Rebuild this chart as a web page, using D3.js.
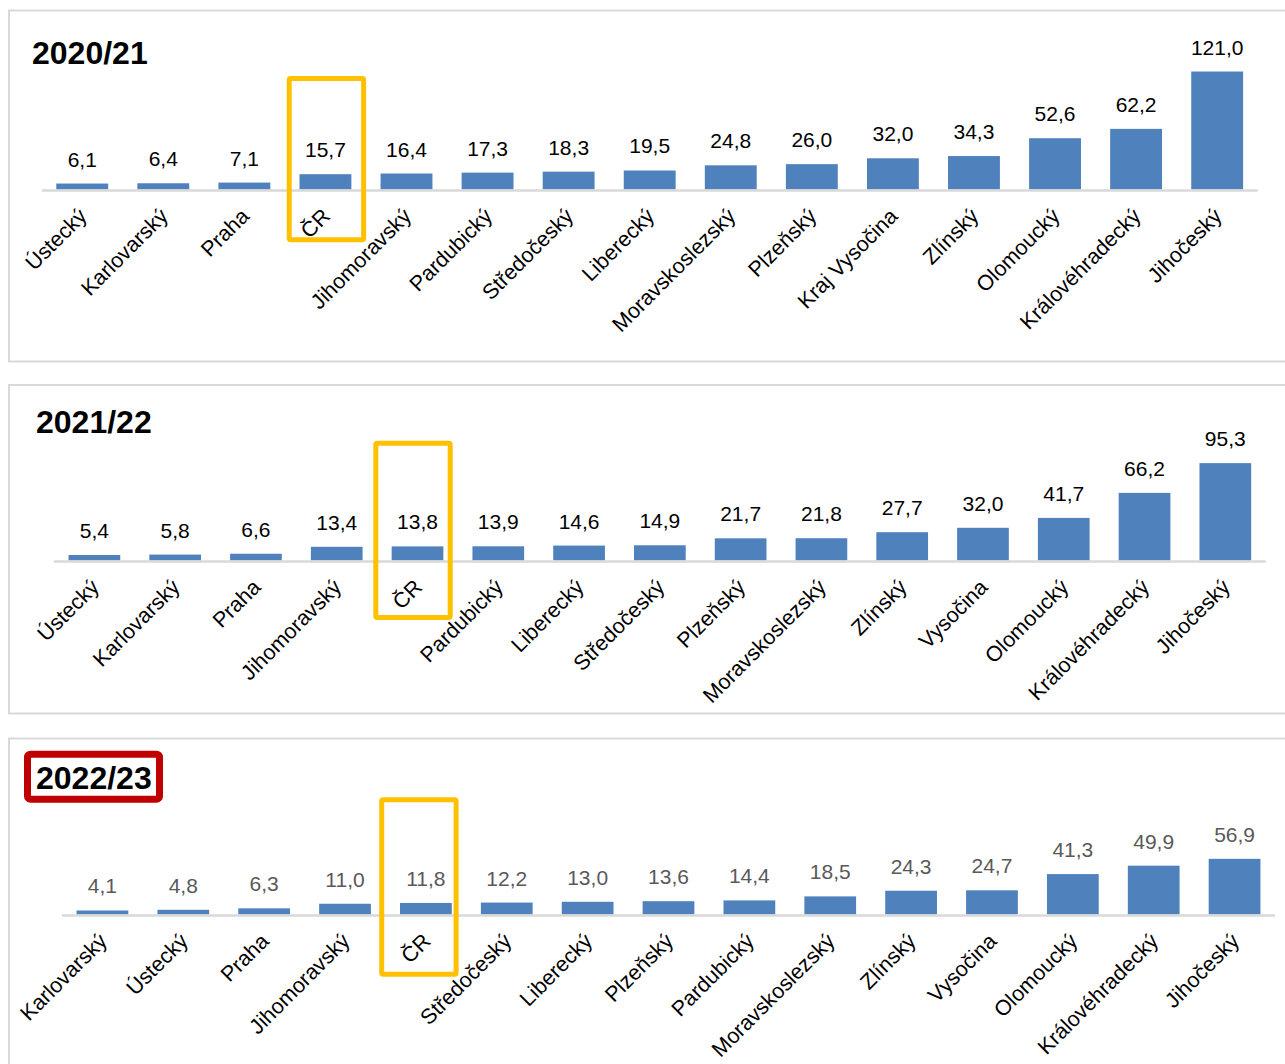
<!DOCTYPE html>
<html>
<head>
<meta charset="utf-8">
<script src="https://cdn.jsdelivr.net/npm/d3@7/dist/d3.min.js"></script>
<style>
  html, body { margin: 0; padding: 0; background: #fff; }
  svg { display: block; font-family: Arial, "Liberation Sans", sans-serif; }
</style>
</head>
<body>
<div id="chart"></div>
<script>
// --- data -----------------------------------------------------------------
var regions2021 = ["Ústecký", "Karlovarský", "Praha", "ČR", "Jihomoravský", "Pardubický",
  "Středočeský", "Liberecký", "Moravskoslezský", "Plzeňský", "Kraj Vysočina", "Zlínský",
  "Olomoucký", "Královéhradecký", "Jihočeský"];
var values2021 = [6.1, 6.4, 7.1, 15.7, 16.4, 17.3, 18.3, 19.5, 24.8, 26.0, 32.0, 34.3, 52.6, 62.2, 121.0];

var regions2122 = ["Ústecký", "Karlovarský", "Praha", "Jihomoravský", "ČR", "Pardubický",
  "Liberecký", "Středočeský", "Plzeňský", "Moravskoslezský", "Zlínský", "Vysočina",
  "Olomoucký", "Královéhradecký", "Jihočeský"];
var values2122 = [5.4, 5.8, 6.6, 13.4, 13.8, 13.9, 14.6, 14.9, 21.7, 21.8, 27.7, 32.0, 41.7, 66.2, 95.3];

var regions2223 = ["Karlovarský", "Ústecký", "Praha", "Jihomoravský", "ČR", "Středočeský",
  "Liberecký", "Plzeňský", "Pardubický", "Moravskoslezský", "Zlínský", "Vysočina",
  "Olomoucký", "Královéhradecký", "Jihočeský"];
var values2223 = [4.1, 4.8, 6.3, 11.0, 11.8, 12.2, 13.0, 13.6, 14.4, 18.5, 24.3, 24.7, 41.3, 49.9, 56.9];

var titles = ["2020/21", "2021/22", "2022/23"];
var axisMax = [140, 120, 60];
var highlight = "ČR";

// --- layout ---------------------------------------------------------------
var W = 1285, H = 1064;
var fmt = function(v) { return d3.format(".1f")(v).replace(".", ","); };

var panels = [
  {title: titles[0], cats: regions2021, vals: values2021, max: axisMax[0],
   top: 10.5, bottom: 361.5, titleX: 32, titleY: 64,
   x0: 41.7, x1: 1257.7, base: 189.5, plotH: 136.5, labelColor: "#000",
   box: {dx: 1, up: 113.5, down: 52.8}},
  {title: titles[1], cats: regions2122, vals: values2122, max: axisMax[1],
   top: 385, bottom: 713.5, titleX: 36, titleY: 433,
   x0: 54, x1: 1265.7, base: 560.5, plotH: 122.6, labelColor: "#000",
   box: {dx: -4.5, up: 119.8, down: 59.5}},
  {title: titles[2], cats: regions2223, vals: values2223, max: axisMax[2],
   top: 738.5, bottom: 1070, titleX: 36, titleY: 789,
   x0: 62, x1: 1275, base: 914.5, plotH: 58.7, labelColor: "#595959",
   box: {dx: -7, up: 117.2, down: 62.2}, redBox: true}
];

var svg = d3.select("#chart").append("svg")
  .attr("width", W)
  .attr("height", H);

panels.forEach(function(p) {
  var g = svg.append("g");

  // panel frame (runs off the right edge)
  g.append("rect")
    .attr("x", 9).attr("y", p.top)
    .attr("width", W + 20).attr("height", p.bottom - p.top)
    .attr("fill", "#fff")
    .attr("stroke", "#d9d9d9")
    .attr("stroke-width", 2);

  var x = d3.scaleBand()
    .domain(p.cats)
    .range([p.x0, p.x1])
    .paddingInner(0.36)
    .paddingOuter(0.18);

  var y = d3.scaleLinear()
    .domain([0, p.max])
    .range([p.base, p.base - p.plotH]);

  var data = p.cats.map(function(c, i) { return {cat: c, val: p.vals[i]}; });

  // bars
  g.append("g").selectAll("rect")
    .data(data)
  .enter().append("rect")
    .attr("x", function(d) { return x(d.cat); })
    .attr("y", function(d) { return y(d.val); })
    .attr("width", x.bandwidth())
    .attr("height", function(d) { return y(0) - y(d.val); })
    .attr("fill", "#4f81bd");

  // category axis line
  g.append("line")
    .attr("x1", p.x0).attr("x2", p.x1)
    .attr("y1", p.base + 1).attr("y2", p.base + 1)
    .attr("stroke", "#d9d9d9")
    .attr("stroke-width", 2.5);

  // value labels
  g.append("g").selectAll("text")
    .data(data)
  .enter().append("text")
    .attr("x", function(d) { return x(d.cat) + x.bandwidth() / 2; })
    .attr("y", function(d) { return y(d.val) - 17; })
    .attr("text-anchor", "middle")
    .attr("font-size", 21)
    .attr("fill", p.labelColor)
    .text(function(d) { return fmt(d.val); });

  // rotated category labels
  g.append("g").selectAll("text")
    .data(data)
  .enter().append("text")
    .attr("transform", function(d) {
      var cx = x(d.cat) + x.bandwidth() / 2;
      return "translate(" + (cx + 6) + "," + (p.base + 28) + ") rotate(-45)";
    })
    .attr("text-anchor", "end")
    .attr("font-size", 21.5)
    .attr("fill", "#000")
    .text(function(d) { return d.cat; });

  // title
  g.append("text")
    .attr("x", p.titleX).attr("y", p.titleY)
    .attr("font-size", 32)
    .attr("font-weight", "bold")
    .attr("fill", "#000")
    .text(p.title);

  if (p.redBox) {
    g.append("rect")
      .attr("x", 27.5).attr("y", 754.2)
      .attr("width", 132).attr("height", 45)
      .attr("rx", 3)
      .attr("fill", "none")
      .attr("stroke", "#c00000")
      .attr("stroke-width", 7);
  }

  // highlight box around ČR
  var hc = x(highlight) + x.bandwidth() / 2 + p.box.dx;
  g.append("rect")
    .attr("x", hc - 37.2)
    .attr("y", p.base - p.box.up + 2.5)
    .attr("width", 74.4)
    .attr("height", p.box.up + p.box.down - 5)
    .attr("rx", 1.5)
    .attr("fill", "none")
    .attr("stroke", "#ffc000")
    .attr("stroke-width", 5);
});
</script>
</body>
</html>
